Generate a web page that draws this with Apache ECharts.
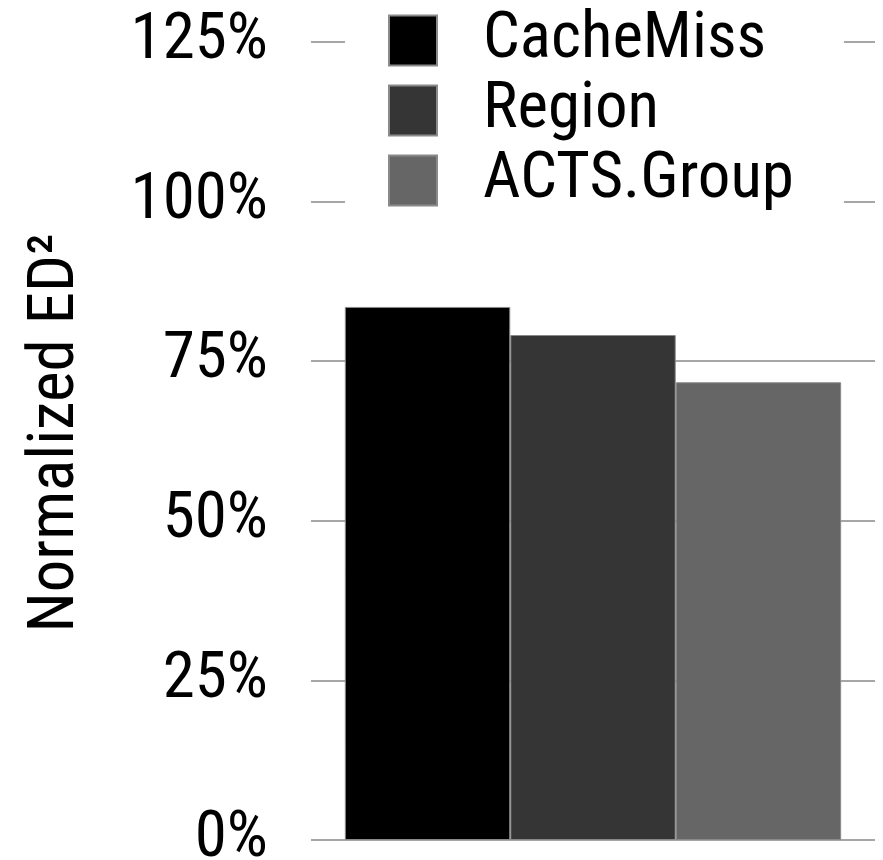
<!DOCTYPE html>
<html>
<head>
<meta charset="utf-8">
<script src="https://cdn.jsdelivr.net/npm/echarts@6/dist/echarts.min.js"></script>
<style>
  html, body { margin: 0; padding: 0; background: #fff; }
  #chart { width: 883px; height: 860px; }
</style>
</head>
<body>
<div id="chart"></div>
<script>
// Normalized ED^2 per scheme, in percent
const categories = ['ED2'];
const seriesNames = ['CacheMiss', 'Region', 'ACTS.Group'];
const cacheMissValues = [83.5];
const regionValues = [79.1];
const actsGroupValues = [71.7];
const yTicks = [0, 25, 50, 75, 100, 125];

const seriesValues = [cacheMissValues, regionValues, actsGroupValues];
const seriesColors = ['#000000', '#353535', '#666666'];

// Prefer a narrow sans face; fall back to the regular one.
const ctx = document.createElement('canvas').getContext('2d');
function fontInstalled(name) {
  const probe = 'ACTS.Group 125% Normalized';
  ctx.font = '100px monospace';
  const base = ctx.measureText(probe).width;
  ctx.font = '100px "' + name + '", monospace';
  return ctx.measureText(probe).width !== base;
}
const narrowCandidates = ['Liberation Sans Narrow', 'Nimbus Sans Narrow', 'Arial Narrow',
  'Roboto Condensed', 'Noto Sans Condensed', 'Open Sans Condensed', 'DejaVu Sans Condensed'];
const family = narrowCandidates.find(fontInstalled) || 'Liberation Sans';
const FONT = '"' + family + '", "Liberation Sans", sans-serif';

// Size the text so the longest legend entry spans about 312px.
ctx.font = '100px ' + FONT;
const FS = Math.min(70, Math.round(100 * 312 / ctx.measureText('ACTS.Group').width));

const chart = echarts.init(document.getElementById('chart'), null, { renderer: 'canvas' });

chart.setOption({
  animation: false,
  backgroundColor: '#ffffff',
  textStyle: { fontFamily: FONT },
  grid: { left: 311, right: 8, top: 42, bottom: 20, outerBoundsMode: 'none', containLabel: false },
  legend: {
    data: seriesNames,
    orient: 'vertical',
    left: 345,
    top: 8,
    padding: [0, 50, 0, 43],
    backgroundColor: '#ffffff',
    itemWidth: 48,
    itemHeight: 50,
    itemGap: 5,
    icon: 'rect',
    textStyle: {
      fontFamily: FONT,
      fontSize: FS,
      color: '#000',
      padding: [0, 0, 0, 41]
    }
  },
  xAxis: {
    type: 'category',
    data: categories,
    axisLine: { show: false },
    axisTick: { show: false },
    axisLabel: { show: false },
    splitLine: { show: false }
  },
  yAxis: {
    type: 'value',
    min: yTicks[0],
    max: yTicks[yTicks.length - 1],
    interval: 25,
    axisLine: { show: false },
    axisTick: { show: false },
    axisLabel: {
      formatter: v => v + '%',
      fontFamily: FONT,
      fontSize: FS,
      color: '#000',
      margin: 43
    },
    splitLine: { show: true, lineStyle: { color: '#a6a6a6', width: 2 } },
    name: 'Normalized ED²',
    nameLocation: 'middle',
    nameRotate: 90,
    nameGap: 222,
    nameTextStyle: {
      fontFamily: FONT,
      fontSize: FS,
      color: '#000',
      padding: [0, 0, 0, 16]
    }
  },
  series: seriesNames.map((name, i) => ({
    name: name,
    type: 'bar',
    data: seriesValues[i],
    barGap: '0%',
    barCategoryGap: '12%',
    itemStyle: { color: seriesColors[i], borderColor: '#8a8a8a', borderWidth: 1 }
  }))
});
</script>
</body>
</html>
